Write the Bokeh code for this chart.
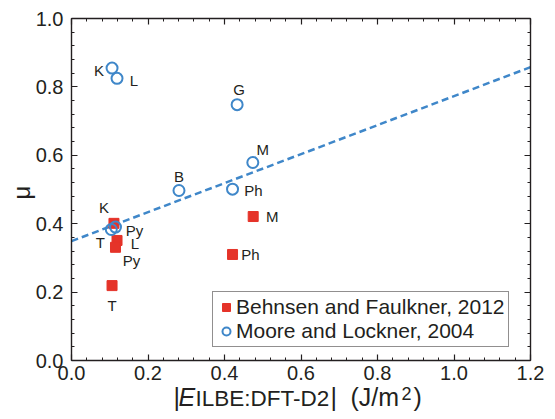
import math
from bokeh.plotting import figure
from bokeh.models import (Range1d, LinearAxis, SingleIntervalTicker, Label,
                          ColumnDataSource, Legend, LegendItem, NumeralTickFormatter)
from bokeh.core.properties import value
from bokeh.embed import file_html
from bokeh.resources import INLINE

# ---- data ----
moore_names = ["K", "L", "G", "M", "B", "Ph", "T", "Py"]
moore_x = [0.106, 0.119, 0.433, 0.474, 0.281, 0.421, 0.104, 0.115]
moore_mu = [0.855, 0.825, 0.748, 0.579, 0.497, 0.501, 0.383, 0.390]

behnsen_names = ["K", "L", "Py", "M", "Ph", "T"]
behnsen_x = [0.111, 0.119, 0.115, 0.475, 0.421, 0.106]
behnsen_mu = [0.401, 0.351, 0.331, 0.421, 0.310, 0.219]

fit_intercept = 0.349
fit_slope = 0.424

x_min, x_max = 0.0, 1.2
y_min, y_max = 0.0, 1.0
tick_interval = 0.2
legend_labels = ["Behnsen and Faulkner, 2012", "Moore and Lockner, 2004"]

# ---- label offsets (pixels) ----
moore_dx = [-13, 17, 2, 10, 0, 21, -11, 19]
moore_dy = [2, 2, -15, -13, -14, 1, 13, 3]
behnsen_dx = [-10, 18, 16, 19, 18, 0]
behnsen_dy = [-16, 3, 13, 0, 0, 20]

FONT = "Liberation Sans"
INK = "#231f20"
RED = "#e53329"
BLUE = "#3f87c9"
W, H = 555, 419
# plot box in canvas pixels
BL, BR, BT, BB = 71, 530, 18, 360
EPS = 1e-6

sx = (x_max - x_min) / (BR - BL)
sy = (y_max - y_min) / (BB - BT)
xr = Range1d(x_min - BL * sx, x_max + (W - BR) * sx)
yr = Range1d(y_min - (H - BB) * sy, y_max + BT * sy)

p = figure(width=W, height=H, output_backend="svg", toolbar_location=None,
           x_range=xr, y_range=yr, min_border=0,
           x_axis_location=None, y_axis_location=None)
p.grid.visible = False
p.outline_line_color = None
p.background_fill_color = "white"
p.border_fill_color = "white"

def make_axis(show_labels, loc, bounds):
    ax = LinearAxis(ticker=SingleIntervalTicker(interval=tick_interval, num_minor_ticks=5),
                    formatter=NumeralTickFormatter(format="0.0"),
                    fixed_location=loc, bounds=bounds)
    ax.axis_line_color = INK
    ax.axis_line_width = 1.4
    ax.major_tick_line_color = INK
    ax.minor_tick_line_color = INK
    ax.major_tick_in = 6
    ax.major_tick_out = 0
    ax.minor_tick_in = 3
    ax.minor_tick_out = 0
    ax.major_tick_line_width = 1.2
    ax.minor_tick_line_width = 1.0
    if show_labels:
        ax.major_label_text_font = FONT
        ax.major_label_text_font_size = "20px"
        ax.major_label_text_color = INK
    else:
        ax.major_label_text_font_size = "0px"
        ax.major_label_text_color = None
        ax.major_label_standoff = 0
    return ax

xbounds = (x_min, x_max + EPS)
ybounds = (y_min, y_max + EPS)
xb = make_axis(True, y_min, xbounds)
xb.major_label_standoff = 5
p.add_layout(xb, "below")
yl = make_axis(True, x_min, ybounds)
yl.major_label_standoff = 8
p.add_layout(yl, "left")
p.add_layout(make_axis(False, y_max, xbounds), "above")
p.add_layout(make_axis(False, x_max, ybounds), "right")

# fit line
fit_x = [x_min, x_max]
fit_y = [fit_intercept + fit_slope * xv for xv in fit_x]
p.line(fit_x, fit_y, line_color=BLUE, line_width=2.5, line_dash="7 4")

# data
src_b = ColumnDataSource(dict(x=behnsen_x, y=behnsen_mu, t=behnsen_names,
                              dx=behnsen_dx, dy=behnsen_dy))
src_m = ColumnDataSource(dict(x=moore_x, y=moore_mu, t=moore_names,
                              dx=moore_dx, dy=moore_dy))

rb = p.scatter("x", "y", source=src_b, marker="square", size=10,
               fill_color=RED, line_color=RED, line_width=1)
rm = p.scatter("x", "y", source=src_m, marker="circle", size=11,
               fill_color=None, line_color=BLUE, line_width=2)

for src in (src_b, src_m):
    p.text("x", "y", text="t", source=src, x_offset="dx", y_offset="dy",
           text_align="center", text_baseline="middle",
           text_font=value(FONT), text_font_size="15px", text_color=INK)

legend = Legend(items=[LegendItem(label=legend_labels[0], renderers=[rb]),
                       LegendItem(label=legend_labels[1], renderers=[rm])],
                location=(212, H - 347), orientation="vertical")
legend.label_text_font = FONT
legend.label_text_font_size = "21px"
legend.label_text_color = INK
legend.border_line_color = INK
legend.border_line_width = 1.4
legend.padding = 3
legend.spacing = 0
legend.margin = 0
legend.glyph_width = 20
legend.glyph_height = 22
legend.label_height = 22
legend.label_standoff = 0
legend.background_fill_alpha = 1
p.add_layout(legend, "center")

# axis titles drawn as pieces (canvas coords, y from top converted)
def lab(text, cx, cy, size, style="normal", **kw):
    p.add_layout(Label(x=cx, y=H - cy, x_units="screen", y_units="screen", text=text,
                       text_font=FONT, text_font_size=size, text_font_style=style,
                       text_color=INK, **kw))

base = 410
lab("|", 173, base, "25px")
lab("E", 178, base, "25px", "italic")
lab("ILBE:DFT-D2", 195, base, "22.5px")
lab("|", 330, base, "25px")
lab("(J/m", 350, base, "25px")
lab("2", 401, base - 11, "18px")
lab(")", 413, base, "25px")

lab("μ", 21, 192, "24px", angle=math.pi / 2, text_align="center", text_baseline="middle")

open("out.html", "w").write(file_html(p, INLINE))
